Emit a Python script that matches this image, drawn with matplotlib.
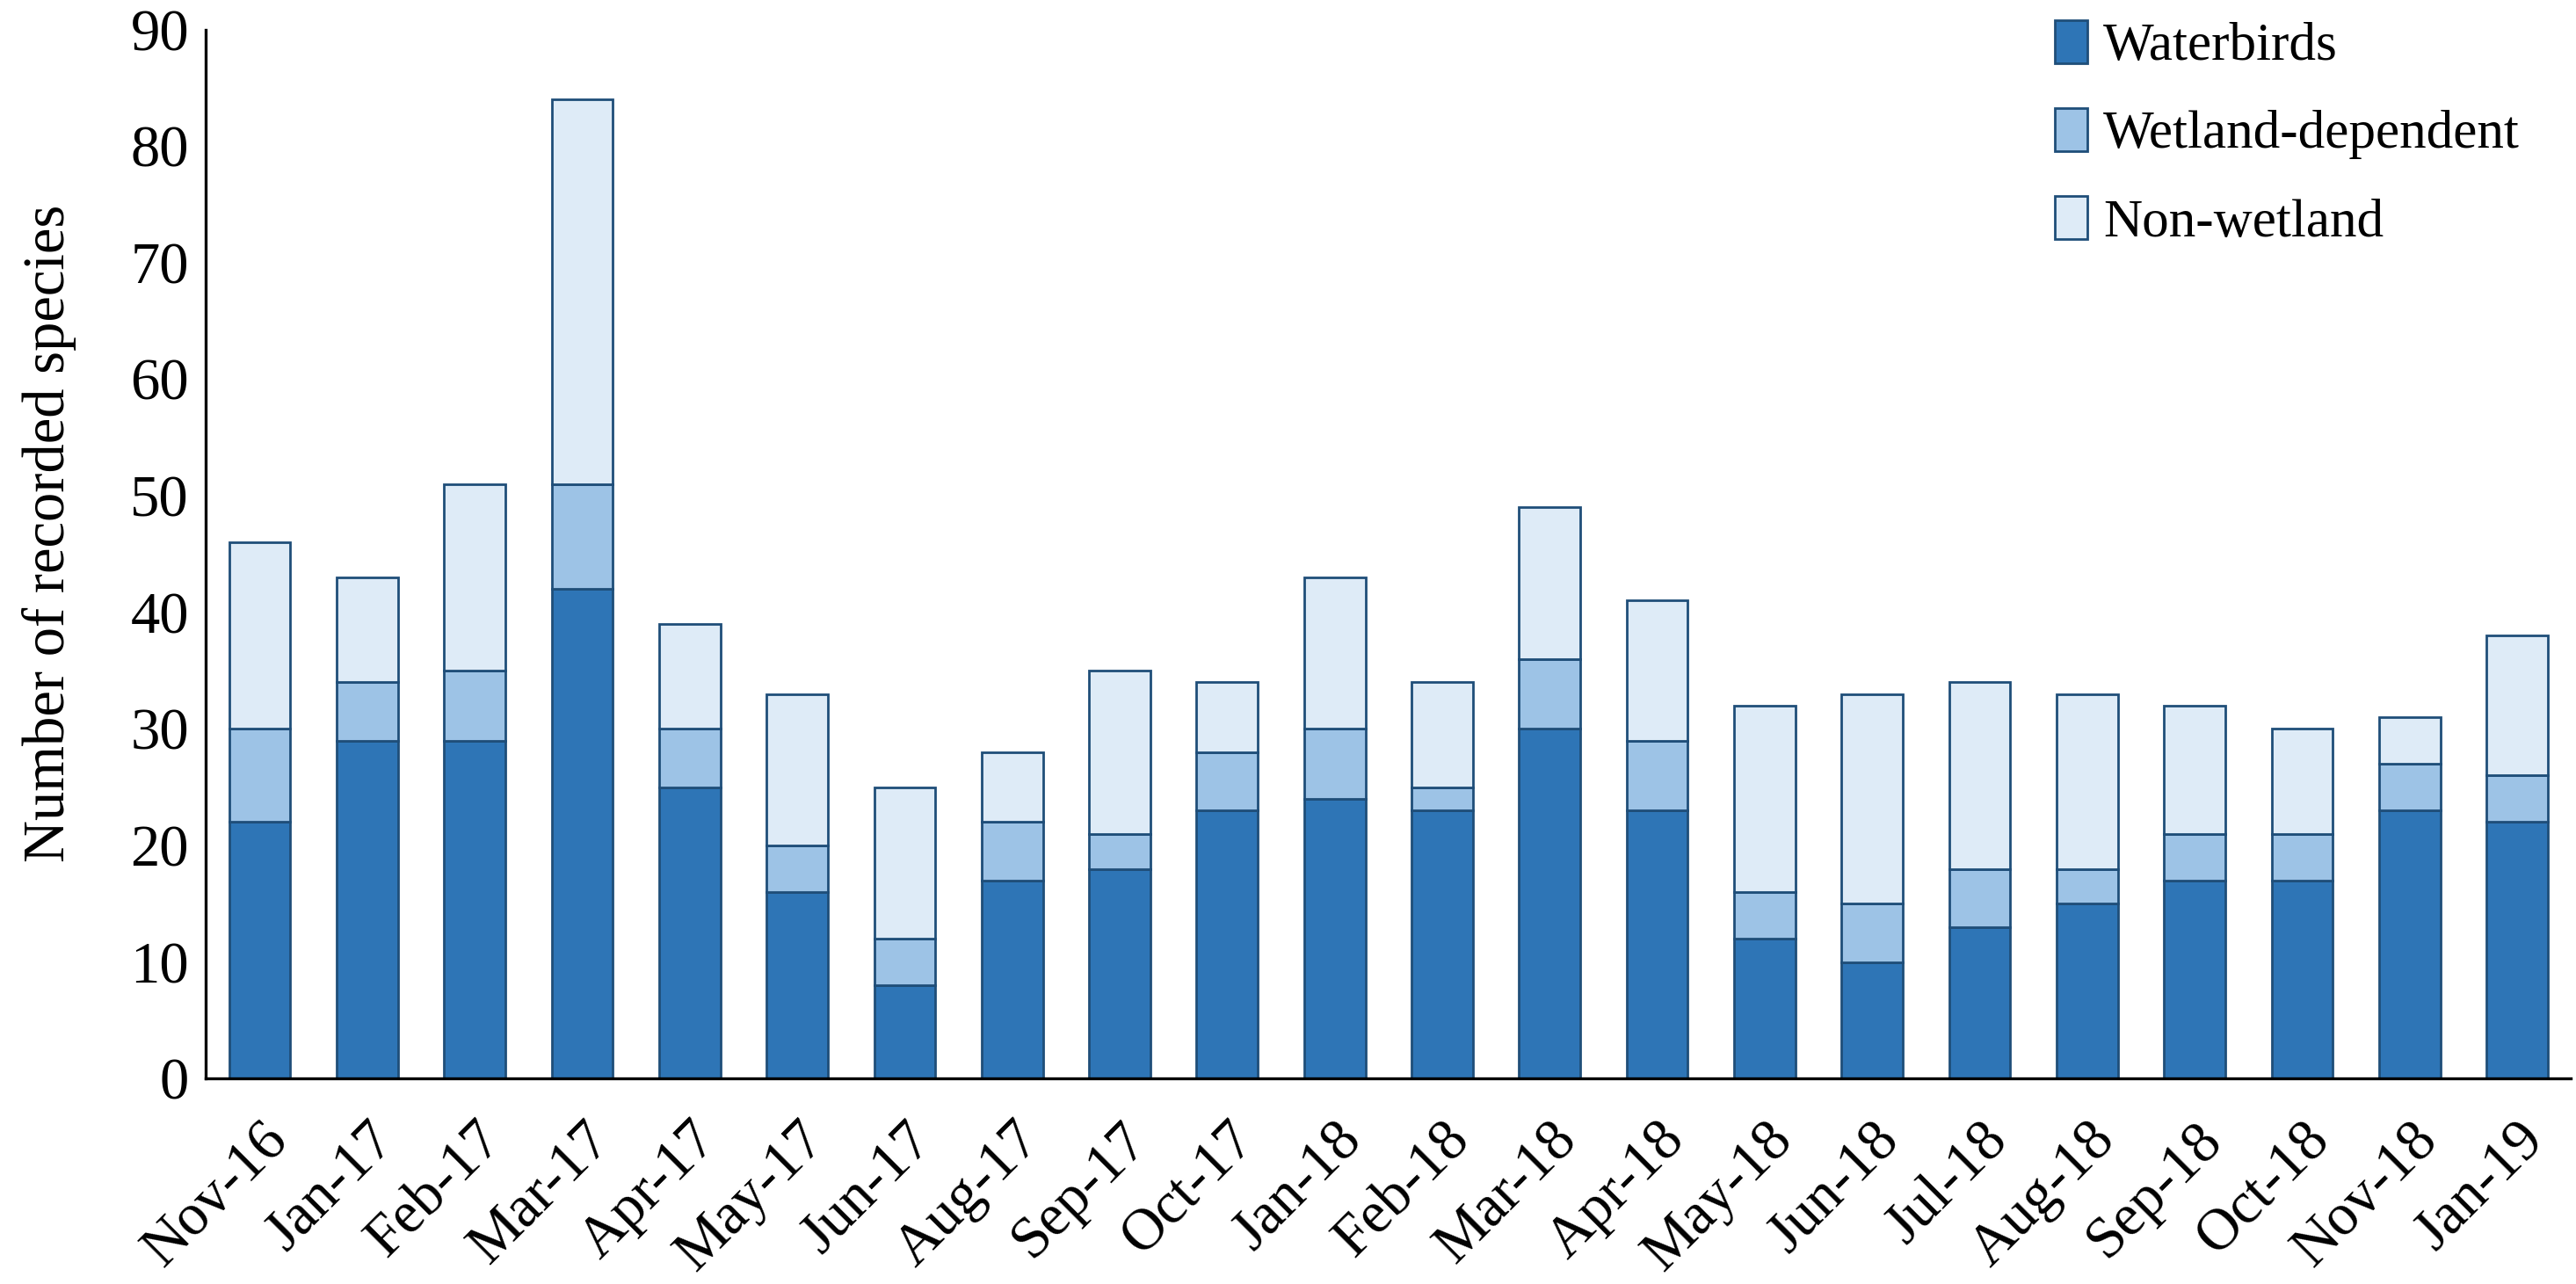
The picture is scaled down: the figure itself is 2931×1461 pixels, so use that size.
import numpy as np
import matplotlib
matplotlib.use("Agg")
import matplotlib.pyplot as plt

plt.rcParams['font.family'] = ['Liberation Serif', 'DejaVu Serif']

# input data
months = ["Nov-16", "Jan-17", "Feb-17", "Mar-17", "Apr-17", "May-17", "Jun-17",
          "Aug-17", "Sep-17", "Oct-17", "Jan-18", "Feb-18", "Mar-18", "Apr-18",
          "May-18", "Jun-18", "Jul-18", "Aug-18", "Sep-18", "Oct-18", "Nov-18",
          "Jan-19"]
waterbirds = np.array([22, 29, 29, 42, 25, 16, 8, 17, 18, 23, 24, 23, 30, 23,
                       12, 10, 13, 15, 17, 17, 23, 22])
wetland_dep = np.array([8, 5, 6, 9, 5, 4, 4, 5, 3, 5, 6, 2, 6, 6,
                        4, 5, 5, 3, 4, 4, 4, 4])
non_wetland = np.array([16, 9, 16, 33, 9, 13, 13, 6, 14, 6, 13, 9, 13, 12,
                        16, 18, 16, 15, 11, 9, 4, 12])
series_names = ["Waterbirds", "Wetland-dependent", "Non-wetland"]

colors = ["#2E75B6", "#9DC3E6", "#DEEBF7"]
edge = "#1F4E79"

fig = plt.figure(figsize=(14.655, 7.305), dpi=200)
ax = fig.add_axes([0.080, 0.160, 0.918, 0.817])

x = np.arange(len(months))
w = 0.57
ax.bar(x, waterbirds, w, color=colors[0], edgecolor=edge, linewidth=1.0,
       label=series_names[0])
ax.bar(x, wetland_dep, w, bottom=waterbirds, color=colors[1], edgecolor=edge,
       linewidth=1.0, label=series_names[1])
ax.bar(x, non_wetland, w, bottom=waterbirds + wetland_dep, color=colors[2],
       edgecolor=edge, linewidth=1.0, label=series_names[2])

ax.set_xlim(-0.5, len(months) - 0.5)
ax.set_ylim(0, 90)
ax.set_yticks(np.arange(0, 91, 10))
ax.set_xticks(x)
ax.set_xticklabels(months, rotation=45, ha="right", rotation_mode="anchor")
ax.tick_params(axis="both", length=0, labelsize=24)
ax.tick_params(axis="y", pad=7)
ax.tick_params(axis="x", pad=14)
ax.set_ylabel("Number of recorded species", fontsize=24, labelpad=22, y=0.52)

for side in ["top", "right"]:
    ax.spines[side].set_visible(False)
for side in ["left", "bottom"]:
    ax.spines[side].set_color("black")
    ax.spines[side].set_linewidth(1.2)

fig.legend(loc="upper left", bbox_to_anchor=(0.779, 1.022), frameon=False,
           fontsize=22, handlelength=0.6, handleheight=0.85, handletextpad=0.3,
           labelspacing=0.68)

fig.savefig("out.png", dpi=200)
